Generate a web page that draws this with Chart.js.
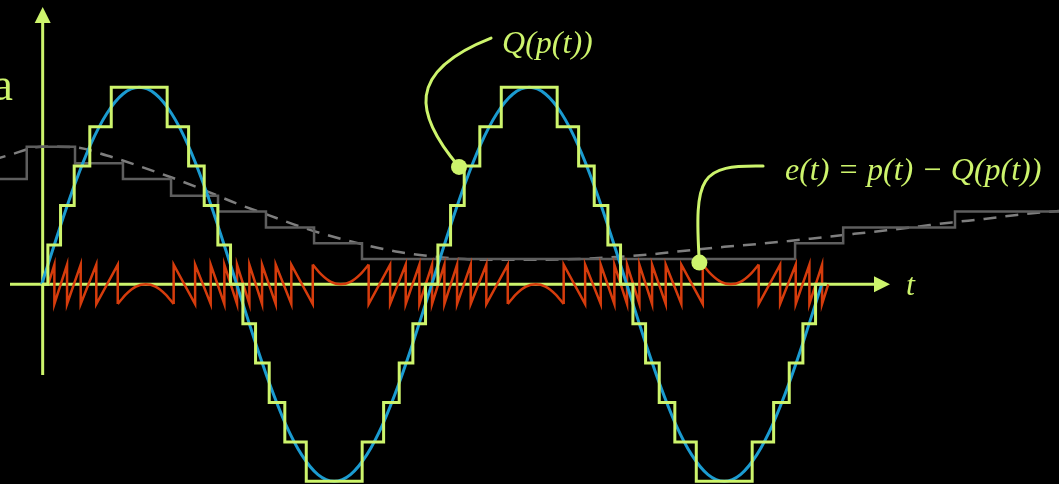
<!DOCTYPE html>
<html>
<head>
<meta charset="utf-8">
<script src="https://cdn.jsdelivr.net/npm/chart.js@4.4.1/dist/chart.umd.min.js"></script>
<style>
  html, body { margin: 0; padding: 0; background: #000; }
  #wrap { position: relative; width: 1059px; height: 484px; }
</style>
</head>
<body>
<div id="wrap"><canvas id="quantChart"></canvas></div>
<script>
// Time runs 24 units per period of p(t); values are in quantizer steps.

// p(t) samples
const sampleT = [0, 1, 2, 3, 4, 5, 6, 7, 8, 9, 10, 11, 12, 13, 14, 15, 16, 17, 18, 19, 20, 21, 22, 23, 24,
  25, 26, 27, 28, 29, 30, 31, 32, 33, 34, 35, 36, 37, 38, 39, 40, 41, 42, 43, 44, 45, 46, 47, 48];
const signalP = [0, 1.29, 2.5, 3.54, 4.33, 4.83, 5, 4.83, 4.33, 3.54, 2.5, 1.29, 0, -1.29, -2.5, -3.54, -4.33, -4.83,
  -5, -4.83, -4.33, -3.54, -2.5, -1.29, 0, 1.29, 2.5, 3.54, 4.33, 4.83, 5, 4.83, 4.33, 3.54, 2.5, 1.29, 0,
  -1.29, -2.5, -3.54, -4.33, -4.83, -5, -4.83, -4.33, -3.54, -2.5, -1.29, 0];

// Q(p(t)): level changes (time, new level)
const quantT = [0, 0.38, 1.16, 2.0, 2.96, 4.28, 7.72, 9.04, 10.0, 10.84, 11.62, 12.38, 13.16, 14.0, 14.96, 16.28,
  19.72, 21.04, 22.0, 22.84, 23.62, 24.38, 25.16, 26.0, 26.96, 28.28, 31.72, 33.04, 34.0, 34.84, 35.62,
  36.38, 37.16, 38.0, 38.96, 40.28, 43.72, 45.04, 46.0, 46.84, 47.62, 48.3];
const quantLevel = [0, 1, 2, 3, 4, 5, 4, 3, 2, 1, 0, -1, -2, -3, -4, -5, -4, -3, -2, -1, 0, 1, 2, 3, 4, 5,
  4, 3, 2, 1, 0, -1, -2, -3, -4, -5, -4, -3, -2, -1, 0, 0];

// e(t) sawtooth corners (null = gap filled by the arcs below)
const errT = [0.4, 0.78, 0.78, 1.56, 1.56, 2.4, 2.4, 3.36, 3.36, 4.68, 4.68,
  6.4,
  8.12, 8.12, 9.44, 9.44, 10.4, 10.4, 11.24, 11.24, 12.02, 12.02, 12.78, 12.78, 13.56, 13.56, 14.4, 14.4,
  15.36, 15.36, 16.68, 16.68,
  18.4,
  20.12, 20.12, 21.44, 21.44, 22.4, 22.4, 23.24, 23.24, 24.02, 24.02, 24.78, 24.78, 25.56, 25.56, 26.4, 26.4,
  27.36, 27.36, 28.68, 28.68,
  30.4,
  32.12, 32.12, 33.44, 33.44, 34.4, 34.4, 35.24, 35.24, 36.02, 36.02, 36.78, 36.78, 37.56, 37.56, 38.4, 38.4,
  39.36, 39.36, 40.68, 40.68,
  42.4,
  44.12, 44.12, 45.44, 45.44, 46.4, 46.4, 47.24, 47.24, 48.02, 48.02, 48.4];
const errV = [0, 0.5, -0.5, 0.5, -0.5, 0.5, -0.5, 0.5, -0.5, 0.5, -0.5,
  null,
  -0.5, 0.5, -0.5, 0.5, -0.5, 0.5, -0.5, 0.5, -0.5, 0.5, -0.5, 0.5, -0.5, 0.5, -0.5, 0.5, -0.5, 0.5, -0.5, 0.5,
  null,
  0.5, -0.5, 0.5, -0.5, 0.5, -0.5, 0.5, -0.5, 0.5, -0.5, 0.5, -0.5, 0.5, -0.5, 0.5, -0.5, 0.5, -0.5, 0.5, -0.5,
  null,
  -0.5, 0.5, -0.5, 0.5, -0.5, 0.5, -0.5, 0.5, -0.5, 0.5, -0.5, 0.5, -0.5, 0.5, -0.5, 0.5, -0.5, 0.5, -0.5, 0.5,
  null,
  0.5, -0.5, 0.5, -0.5, 0.5, -0.5, 0.5, -0.5, 0.5, -0.5, 0];

// e(t) round parts around the peaks and troughs
const arcT = [4.68, 5.2, 5.8, 6.4, 7.0, 7.6, 8.12, 12,
  16.68, 17.2, 17.8, 18.4, 19.0, 19.6, 20.12, 24,
  28.68, 29.2, 29.8, 30.4, 31.0, 31.6, 32.12, 36,
  40.68, 41.2, 41.8, 42.4, 43.0, 43.6, 44.12];
const arcV = [-0.5, -0.25, -0.06, 0, -0.06, -0.25, -0.5, null,
  0.5, 0.25, 0.06, 0, 0.06, 0.25, 0.5, null,
  -0.5, -0.25, -0.06, 0, -0.06, -0.25, -0.5, null,
  0.5, 0.25, 0.06, 0, 0.06, 0.25, 0.5];

// slow signal (dashed) and its quantized version
const slowT = [-3, -2, 0, 2, 4, 6, 8, 10, 12, 14, 16, 18, 20, 22, 24, 26, 28, 30, 32, 34, 36, 38, 40,
  42, 44, 46, 48, 50, 52, 54, 56, 58, 60, 62, 63];
const slowV = [3.16, 3.28, 3.49, 3.48, 3.27, 3.0, 2.71, 2.39, 2.05, 1.75, 1.45, 1.2, 0.99, 0.82, 0.71, 0.64,
  0.62, 0.62, 0.63, 0.66, 0.71, 0.78, 0.87, 0.95, 1.02, 1.1, 1.19, 1.28, 1.37, 1.47, 1.57, 1.66, 1.76, 1.84, 1.87];
const slowQT = [-2.6, -0.92, 2.05, 5.0, 7.96, 10.85, 13.8, 16.76, 19.71, 46.36, 49.32, 56.2, 62.7];
const slowQLevel = [2.67, 3.49, 3.07, 2.67, 2.25, 1.85, 1.44, 1.04, 0.64, 1.04, 1.44, 1.85, 1.85];

// visible window
const tMin = -2.566, tMax = 62.6;
const vMin = -5.069, vMax = 7.216;

// axes (t axis along v = 0, value axis at t = yAxisT)
const tAxisFrom = -1.95, tAxisTip = 52.2;
const yAxisT = 0.06, yAxisFrom = -2.3, yAxisTip = 7.04;

const LIME = '#cdf46c';
const BLUE = '#1b9bd0';
const RED = '#d63c0c';

const pts = (xs, ys) => xs.map((x, i) => ({ x, y: ys[i] }));

// ============================================================
// Axes, callouts and labels
// ============================================================
const decor = {
  id: 'decor',
  beforeDatasetsDraw(chart) {
    const { ctx, scales: { x, y } } = chart;
    ctx.save();
    ctx.strokeStyle = LIME;
    ctx.fillStyle = LIME;
    ctx.lineWidth = 3;

    // t axis
    const y0 = y.getPixelForValue(0);
    const xTip = x.getPixelForValue(tAxisTip);
    ctx.beginPath();
    ctx.moveTo(x.getPixelForValue(tAxisFrom), y0);
    ctx.lineTo(xTip - 12, y0);
    ctx.stroke();
    ctx.beginPath();
    ctx.moveTo(xTip, y0);
    ctx.lineTo(xTip - 16, y0 - 8);
    ctx.lineTo(xTip - 16, y0 + 8);
    ctx.closePath();
    ctx.fill();

    // value axis
    const xa = x.getPixelForValue(yAxisT);
    const yTip = y.getPixelForValue(yAxisTip);
    ctx.beginPath();
    ctx.moveTo(xa, y.getPixelForValue(yAxisFrom));
    ctx.lineTo(xa, yTip + 12);
    ctx.stroke();
    ctx.beginPath();
    ctx.moveTo(xa, yTip);
    ctx.lineTo(xa - 8, yTip + 16);
    ctx.lineTo(xa + 8, yTip + 16);
    ctx.closePath();
    ctx.fill();
    ctx.restore();
  },
  afterDatasetsDraw(chart) {
    const { ctx, scales: { x, y } } = chart;
    const P = (t, v) => [x.getPixelForValue(t), y.getPixelForValue(v)];
    ctx.save();
    ctx.strokeStyle = LIME;
    ctx.fillStyle = LIME;
    ctx.lineWidth = 3;
    ctx.lineCap = 'round';

    const callout = (from, c1, c2, dot) => {
      const a = P(...from), b = P(...c1), c = P(...c2), d = P(...dot);
      ctx.beginPath();
      ctx.moveTo(a[0], a[1]);
      ctx.bezierCurveTo(b[0], b[1], c[0], c[1], d[0], d[1]);
      ctx.stroke();
      ctx.beginPath();
      ctx.arc(d[0], d[1], 8, 0, Math.PI * 2);
      ctx.fill();
    };
    callout([27.65, 6.25], [22.36, 5.39], [22.97, 4.3], [25.68, 2.98]);
    callout([44.39, 3.0], [40.51, 3.03], [40.14, 2.77], [40.47, 0.55]);

    ctx.textBaseline = 'alphabetic';
    ctx.font = 'italic 32px "Liberation Serif"';
    ctx.textAlign = 'left';
    let p = P(28.33, 5.87);
    ctx.fillText('Q(p(t))', p[0], p[1]);
    p = P(45.74, 2.647);
    ctx.fillText('e(t) = p(t) \u2212 Q(p(t))', p[0], p[1]);
    p = P(53.19, -0.27);
    ctx.fillText('t', p[0], p[1]);

    ctx.font = '46px "Liberation Serif"';
    ctx.textAlign = 'right';
    p = P(-1.77, 4.68);
    ctx.fillText('a', p[0], p[1]);
    ctx.restore();
  }
};

new Chart(document.getElementById('quantChart'), {
  type: 'line',
  data: {
    datasets: [
      {
        label: 'Q(p(t))',
        data: pts(quantT, quantLevel),
        stepped: true,
        borderColor: LIME,
        borderWidth: 3,
        order: 0
      },
      {
        label: 'p(t)',
        data: pts(sampleT, signalP),
        cubicInterpolationMode: 'monotone',
        borderColor: BLUE,
        borderWidth: 3,
        order: 1
      },
      {
        label: 'e(t)',
        data: pts(errT, errV),
        borderColor: RED,
        borderWidth: 2.5,
        order: 2
      },
      {
        label: 'e(t) arcs',
        data: pts(arcT, arcV),
        cubicInterpolationMode: 'monotone',
        borderColor: RED,
        borderWidth: 2.5,
        order: 2
      },
      {
        label: 'slow quantized',
        data: pts(slowQT, slowQLevel),
        stepped: true,
        borderColor: '#5e5e5e',
        borderWidth: 2.5,
        order: 3
      },
      {
        label: 'slow',
        data: pts(slowT, slowV),
        cubicInterpolationMode: 'monotone',
        borderColor: '#7e7e7e',
        borderWidth: 2.5,
        borderDash: [13, 9],
        order: 4
      }
    ]
  },
  options: {
    responsive: true,
    maintainAspectRatio: false,
    animation: false,
    events: [],
    layout: { padding: 0 },
    elements: { point: { radius: 0 }, line: { tension: 0, fill: false } },
    plugins: { legend: { display: false }, tooltip: { enabled: false } },
    scales: {
      x: { type: 'linear', min: tMin, max: tMax, display: false },
      y: { type: 'linear', min: vMin, max: vMax, display: false }
    }
  },
  plugins: [decor]
});
</script>
</body>
</html>
